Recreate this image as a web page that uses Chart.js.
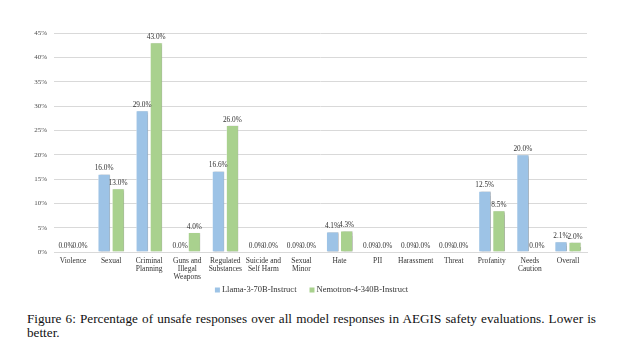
<!DOCTYPE html>
<html>
<head>
<meta charset="utf-8">
<script src="https://cdn.jsdelivr.net/npm/chart.js@4.4.1/dist/chart.umd.min.js"></script>
<style>
  html, body { margin: 0; padding: 0; background: #fff; }
  #wrap { position: absolute; left: 0; top: 0; width: 623px; height: 300px; }
  #caption {
    position: absolute; left: 27px; top: 312px; width: 569px;
    font-family: "Liberation Serif", "Times New Roman", serif;
    font-size: 13.2px; line-height: 14px; color: #111;
    text-align: justify;
  }
</style>
</head>
<body>
<div id="wrap"><canvas id="chart"></canvas></div>
<div id="caption">Figure 6: Percentage of unsafe responses over all model responses in AEGIS safety evaluations. Lower is better.</div>
<script>
const categories = [
  "Violence", "Sexual", ["Criminal", "Planning"], ["Guns and", "Illegal", "Weapons"],
  ["Regulated", "Substances"], ["Suicide and", "Self Harm"], ["Sexual", "Minor"],
  "Hate", "PII", "Harassment", "Threat", "Profanity", ["Needs", "Caution"], "Overall"
];
const llamaValues = [0.0, 16.0, 29.0, 0.0, 16.6, 0.0, 0.0, 4.1, 0.0, 0.0, 0.0, 12.5, 20.0, 2.1];
const nemotronValues = [0.0, 13.0, 43.0, 4.0, 26.0, 0.0, 0.0, 4.3, 0.0, 0.0, 0.0, 8.5, 0.0, 2.0];
const seriesNames = ["Llama-3-70B-Instruct", "Nemotron-4-340B-Instruct"];
const seriesColors = ["#9dc3e6", "#a9d18e"];
const yTicks = [0, 5, 10, 15, 20, 25, 30, 35, 40, 45];

const serif = "'Liberation Serif', 'Times New Roman', serif";

// soft shadow behind each bar, like the office chart style
const barShadow = {
  id: "barShadow",
  beforeDatasetDraw(chart) {
    const ctx = chart.ctx;
    ctx.save();
    ctx.shadowColor = "rgba(0,0,0,0.35)";
    ctx.shadowBlur = 1.5;
    ctx.shadowOffsetX = 1.5;
    ctx.shadowOffsetY = 0.5;
  },
  afterDatasetDraw(chart) {
    chart.ctx.restore();
  }
};

// value labels above the bars
const valueLabels = {
  id: "valueLabels",
  afterDatasetsDraw(chart) {
    const ctx = chart.ctx;
    ctx.save();
    ctx.font = "7.3px " + serif;
    ctx.fillStyle = "#333333";
    ctx.textAlign = "center";
    ctx.textBaseline = "bottom";
    chart.data.datasets.forEach((ds, i) => {
      chart.getDatasetMeta(i).data.forEach((bar, j) => {
        ctx.fillText(ds.data[j].toFixed(1) + "%", bar.x, bar.y - 2);
      });
    });
    ctx.restore();
  }
};

// legend row under the axis labels (built-in legend packs items too tight)
const bottomLegend = {
  id: "bottomLegend",
  afterDraw(chart) {
    const ctx = chart.ctx;
    ctx.save();
    ctx.font = "8.5px " + serif;
    ctx.textBaseline = "middle";
    const box = 5, gap = 2, spacing = 13;
    const items = chart.data.datasets.map(ds => ({ text: ds.label, color: ds.backgroundColor, w: ctx.measureText(ds.label).width }));
    const total = items.reduce((s, it) => s + box + gap + it.w, 0) + spacing * (items.length - 1);
    let x = chart.width / 2 - total / 2;
    const y = chart.chartArea.bottom + 38;
    items.forEach(it => {
      ctx.fillStyle = it.color;
      ctx.fillRect(x, y - box / 2, box, box);
      ctx.fillStyle = "#333333";
      ctx.fillText(it.text, x + box + gap, y);
      x += box + gap + it.w + spacing;
    });
    ctx.restore();
  }
};

new Chart(document.getElementById("chart"), {
  type: "bar",
  data: {
    labels: categories,
    datasets: [
      { label: seriesNames[0], data: llamaValues, backgroundColor: seriesColors[0], borderColor: "#ffffff", borderWidth: 0.5 },
      { label: seriesNames[1], data: nemotronValues, backgroundColor: seriesColors[1], borderColor: "#ffffff", borderWidth: 0.5 }
    ]
  },
  options: {
    responsive: true,
    maintainAspectRatio: false,
    animation: false,
    layout: { padding: { top: 33, right: 36, left: 0, bottom: 15 } },
    datasets: { bar: { categoryPercentage: 0.74, barPercentage: 0.86 } },
    scales: {
      x: {
        grid: { display: false, drawTicks: false },
        border: { color: "#d9d9d9" },
        ticks: {
          font: { family: serif, size: 7.5, lineHeight: 1.07 },
          color: "#333333",
          padding: 5,
          maxRotation: 0,
          autoSkip: false
        },
        afterFit(axis) { axis.height = 33; }
      },
      y: {
        min: 0,
        max: 45,
        afterBuildTicks(axis) { axis.ticks = yTicks.map(v => ({ value: v })); },
        grid: { color: "#d9d9d9", drawTicks: false },
        border: { display: false },
        ticks: {
          font: { family: serif, size: 7 },
          color: "#4d4d4d",
          padding: 7,
          callback: v => v + "%"
        },
        afterFit(axis) { axis.width = 54; }
      }
    },
    plugins: {
      legend: { display: false },
      tooltip: { enabled: false }
    }
  },
  plugins: [barShadow, valueLabels, bottomLegend]
});
</script>
</body>
</html>
